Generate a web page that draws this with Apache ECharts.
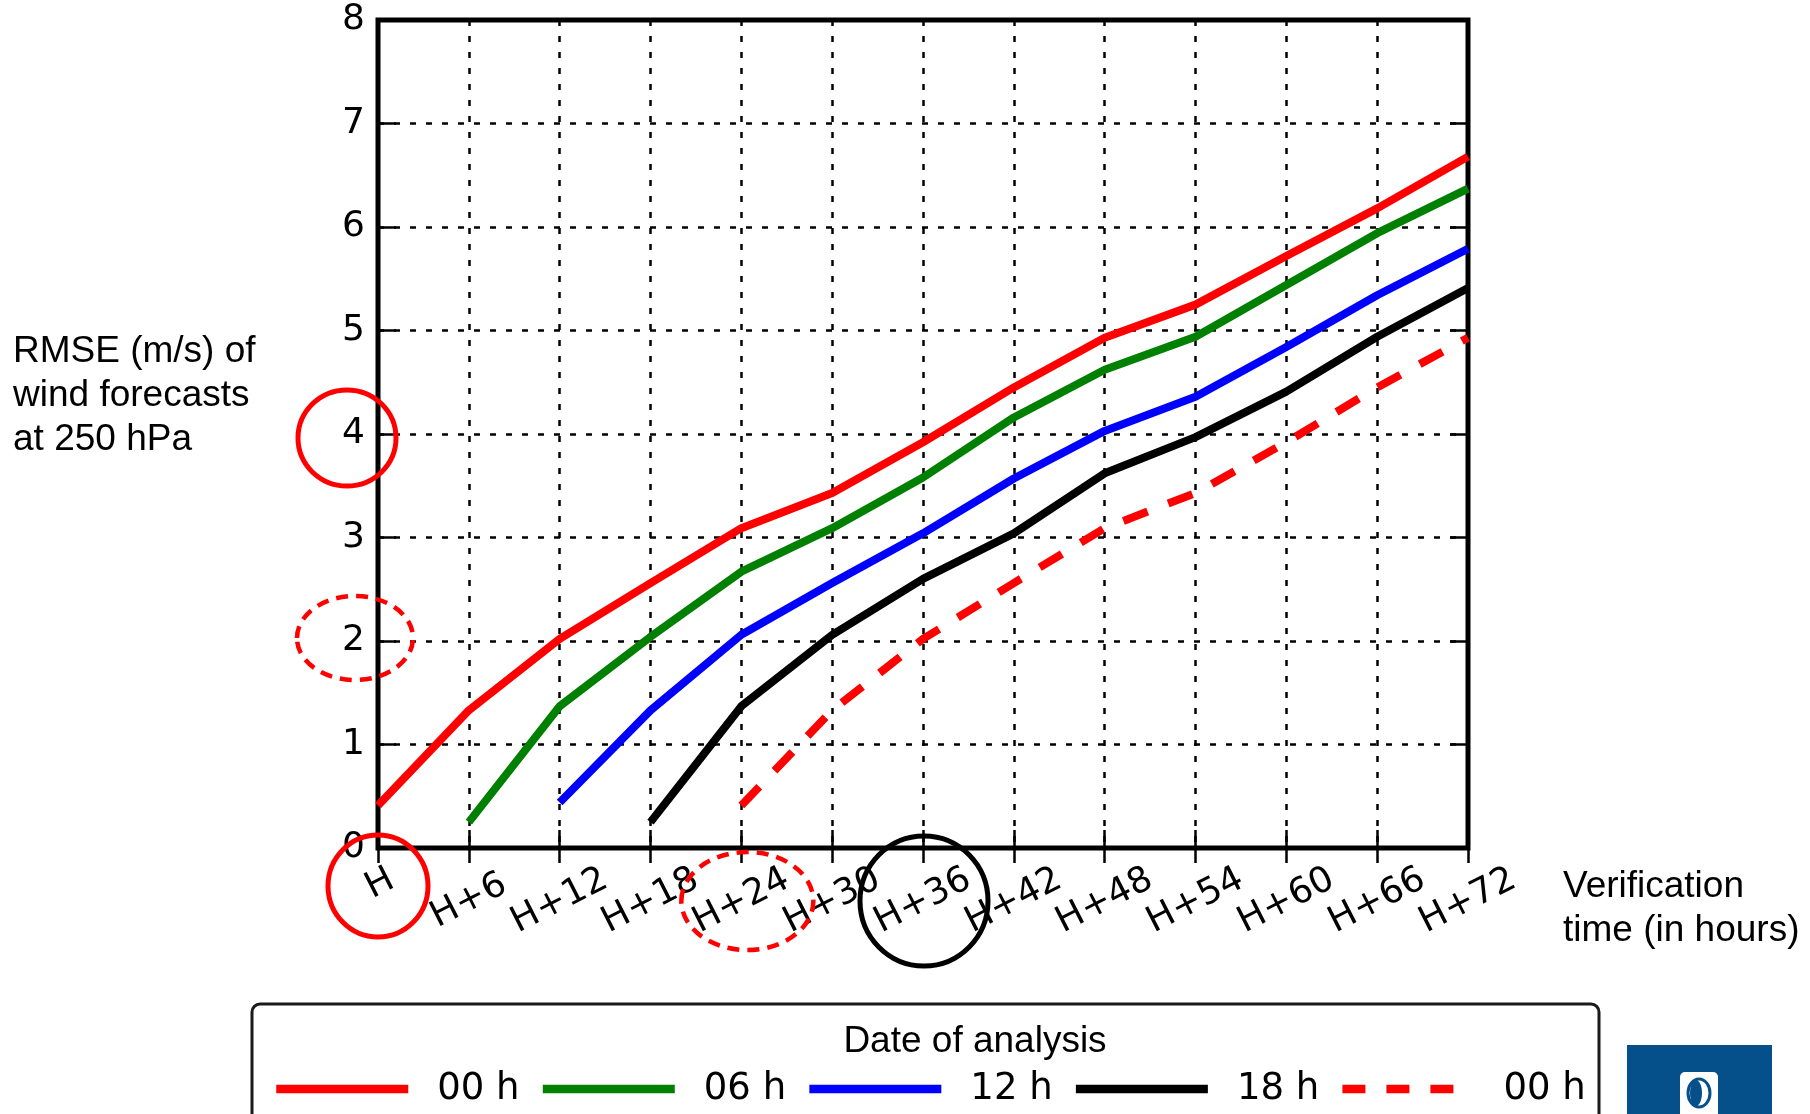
<!DOCTYPE html>
<html>
<head>
<meta charset="utf-8">
<script src="https://cdn.jsdelivr.net/npm/echarts@6/dist/echarts.min.js"></script>
<style>
html, body { margin: 0; padding: 0; background: #fff; }
#chart { width: 1810px; height: 1114px; }
</style>
</head>
<body>
<div id="chart"></div>
<script>
// verification times (x axis)
var hours = ['H', 'H+6', 'H+12', 'H+18', 'H+24', 'H+30', 'H+36', 'H+42', 'H+48', 'H+54', 'H+60', 'H+66', 'H+72'];

// RMSE (m/s) per analysis run
var run00 = [0.41, 1.33, 2.02, 2.56, 3.09, 3.43, 3.92, 4.45, 4.93, 5.25, 5.72, 6.18, 6.68];
var run06 = [null, 0.25, 1.37, 2.04, 2.67, 3.09, 3.58, 4.16, 4.62, 4.94, 5.44, 5.94, 6.37];
var run12 = [null, null, 0.44, 1.33, 2.06, 2.56, 3.04, 3.57, 4.03, 4.36, 4.84, 5.34, 5.79];
var run18 = [null, null, null, 0.25, 1.37, 2.06, 2.60, 3.04, 3.62, 3.97, 4.41, 4.94, 5.41];
var run00next = [null, null, null, null, 0.41, 1.33, 2.02, 2.56, 3.09, 3.43, 3.92, 4.45, 4.93];

var runLabels = ['00 h', '06 h', '12 h', '18 h', '00 h'];
var runColors = ['#ff0000', '#008000', '#0000ff', '#000000', '#ff0000'];
var runData = [run00, run06, run12, run18, run00next];

// circled labels drawn on top of the chart
var marks = [
    { axis: 'y', value: 4, dx: -31, dy: 4, rx: 49, ry: 48, color: '#ff0000', dashed: false },
    { axis: 'y', value: 2, dx: -23, dy: -3, rx: 58, ry: 42, color: '#ff0000', dashed: true },
    { axis: 'x', value: 'H', dx: 0, dy: 38, rx: 50, ry: 51, color: '#ff0000', dashed: false },
    { axis: 'x', value: 'H+24', dx: 6, dy: 53, rx: 66, ry: 49, color: '#ff0000', dashed: true },
    { axis: 'x', value: 'H+36', dx: 1, dy: 53, rx: 64, ry: 65, color: '#000000', dashed: false }
];

var tickFont = 'DejaVu Sans';
var textFont = 'Liberation Sans';
var labelRotate = 27;

var chart = echarts.init(document.getElementById('chart'));

var series = runData.map(function (d, i) {
    return {
        name: 'run' + i,
        type: 'line',
        data: d,
        symbol: 'none',
        color: runColors[i],
        lineStyle: {
            color: runColors[i],
            width: 8,
            type: i === 4 ? [26, 22] : 'solid',
            join: 'round'
        },
        z: 3 + i
    };
});

var gridLine = { color: '#000', width: 2.5, type: [6, 10] };
var tickLine = { color: '#000', width: 2.5 };

var option = {
    animation: false,
    backgroundColor: '#fff',
    grid: {
        left: 378, right: 342, top: 20, bottom: 266,
        show: true,
        borderColor: '#000',
        borderWidth: 5,
        backgroundColor: 'transparent'
    },
    legend: {
        left: 272,
        top: 1069,
        padding: 0,
        itemWidth: 132,
        itemHeight: 40,
        itemGap: 19,
        data: runLabels.map(function (l, i) {
            var item = { name: 'run' + i };
            if (i === 4) item.lineStyle = { type: [23, 21] };
            return item;
        }),
        formatter: function (name) {
            return runLabels[+name.slice(3)];
        },
        itemStyle: { color: 'rgba(0,0,0,0)', borderWidth: 0, opacity: 0 },
        lineStyle: { width: 8.5 },
        textStyle: {
            fontFamily: tickFont,
            fontSize: 37,
            color: '#000',
            lineHeight: 40,
            padding: [0, 0, 0, 24]
        },
        selectedMode: false
    },
    xAxis: [{
        type: 'category',
        data: hours,
        boundaryGap: false,
        axisLine: { show: false },
        axisTick: { show: true, inside: true, length: 18, lineStyle: tickLine },
        splitLine: { show: true, lineStyle: gridLine },
        axisLabel: {
            interval: 0,
            rotate: labelRotate,
            align: 'center',
            verticalAlign: 'middle',
            margin: 53,
            fontFamily: tickFont,
            fontSize: 36,
            color: '#000',
            // "H" is drawn separately: the short label sits higher in the original
            formatter: function (v) { return v === 'H' ? '' : v; }
        }
    }, {
        type: 'category',
        data: hours,
        boundaryGap: false,
        position: 'top',
        axisLine: { show: false },
        axisTick: { show: true, inside: true, length: 15, lineStyle: tickLine },
        axisLabel: { show: false },
        splitLine: { show: false }
    }],
    yAxis: [{
        type: 'value',
        min: 0,
        max: 8,
        interval: 1,
        axisLine: { show: false },
        axisTick: { show: true, inside: true, length: 18, lineStyle: tickLine },
        splitLine: { show: true, lineStyle: gridLine },
        axisLabel: {
            margin: 13,
            fontFamily: tickFont,
            fontSize: 36,
            color: '#000'
        }
    }, {
        type: 'value',
        min: 0,
        max: 8,
        interval: 1,
        position: 'right',
        axisLine: { show: false },
        axisTick: { show: true, inside: true, length: 18, lineStyle: tickLine },
        axisLabel: { show: false },
        splitLine: { show: false }
    }],
    series: series
};

chart.setOption(option);

// place the circles on the tick labels
var xH = chart.convertToPixel({ xAxisIndex: 0 }, 'H');
var y0 = chart.convertToPixel({ yAxisIndex: 0 }, 0);
var circles = marks.map(function (m) {
    var cx, cy;
    if (m.axis === 'x') {
        cx = chart.convertToPixel({ xAxisIndex: 0 }, m.value) + m.dx;
        cy = y0 + m.dy;
    } else {
        cx = xH + m.dx;
        cy = chart.convertToPixel({ yAxisIndex: 0 }, m.value) + m.dy;
    }
    return {
        type: 'ellipse',
        z: 100,
        shape: { cx: cx, cy: cy, rx: m.rx, ry: m.ry },
        style: {
            fill: null,
            stroke: m.color,
            lineWidth: m.dashed ? 4.5 : 5,
            lineDash: m.dashed ? [12, 8] : null
        }
    };
});

var texts = [
    {
        type: 'text', z: 50,
        x: xH + 2, y: y0 + 36,
        rotation: labelRotate * Math.PI / 180,
        style: {
            text: hours[0], x: 0, y: 0,
            align: 'center', verticalAlign: 'middle',
            fontFamily: tickFont, fontSize: 36, fill: '#000'
        }
    },
    {
        type: 'text', left: 13, top: 330,
        style: {
            text: 'RMSE (m/s) of\nwind forecasts\nat 250 hPa',
            fontFamily: textFont, fontSize: 37, lineHeight: 44, fill: '#000'
        }
    },
    {
        type: 'text', left: 1563, top: 865,
        style: {
            text: 'Verification\ntime (in hours)',
            fontFamily: textFont, fontSize: 37, lineHeight: 44, fill: '#000'
        }
    },
    {
        type: 'rect', z: 0,
        shape: { x: 252, y: 1004, width: 1347, height: 200, r: 8 },
        style: { fill: '#fff', stroke: '#1a1a1a', lineWidth: 3 }
    },
    {
        type: 'text', z: 2,
        style: {
            text: 'Date of analysis', x: 975, y: 1020,
            align: 'center', verticalAlign: 'top',
            fontFamily: textFont, fontSize: 37, lineHeight: 43, fill: '#000'
        }
    },
    // small logo in the corner
    {
        type: 'rect',
        shape: { x: 1627, y: 1045, width: 145, height: 80 },
        style: { fill: '#05508b' }
    },
    {
        type: 'rect',
        shape: { x: 1680, y: 1072, width: 38, height: 46, r: 5 },
        style: { fill: '#fff' }
    },
    {
        type: 'ellipse',
        shape: { cx: 1699, cy: 1093, rx: 11, ry: 14 },
        style: { fill: null, stroke: '#05508b', lineWidth: 3 }
    },
    {
        type: 'ellipse',
        shape: { cx: 1696, cy: 1093, rx: 6, ry: 13 },
        style: { fill: '#05508b' }
    }
];

chart.setOption({ graphic: texts.concat(circles) });
</script>
</body>
</html>
